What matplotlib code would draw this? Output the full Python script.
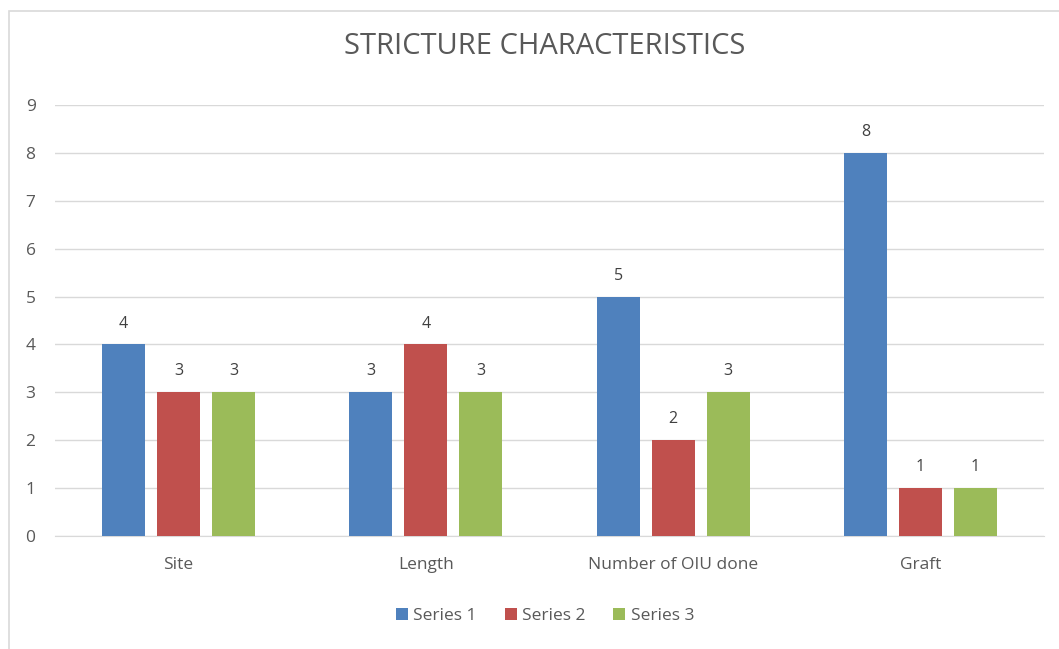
import matplotlib
matplotlib.use('Agg')
import matplotlib.pyplot as plt
from matplotlib.patches import Rectangle
import numpy as np

categories = ['Site', 'Length', 'Number of OIU done', 'Graft']
series1 = [4, 3, 5, 8]
series2 = [3, 4, 2, 1]
series3 = [3, 3, 3, 1]
series_names = ['Series 1', 'Series 2', 'Series 3']
colors = ['#4F81BD', '#C0504D', '#9BBB59']
txt = '#595959'

plt.rcParams['font.family'] = ['Open Sans', 'DejaVu Sans']

fig = plt.figure(figsize=(10.59, 6.49), dpi=100)
# outer chart frame
fig.patches.append(Rectangle((9/1059, -0.05), 1.2, 1 - 11/649 + 0.05,
                             transform=fig.transFigure, fill=False,
                             edgecolor='#D9D9D9', linewidth=1.2))

ax = fig.add_axes([55/1059, 1 - 536/649, 989/1059, (536 - 105)/649])
x = np.arange(len(categories))
w = 43/247
off = 55/247
for i, vals in enumerate([series1, series2, series3]):
    bars = ax.bar(x + (i - 1)*off, vals, w, color=colors[i], label=series_names[i], zorder=3)
    for b, v in zip(bars, vals):
        ax.text(b.get_x() + b.get_width()/2, v + 0.27, str(v), ha='center', va='bottom',
                fontsize=11.5, color='#404040')

ax.set_xlim(-0.5, 3.5)
ax.set_ylim(0, 9)
ax.set_yticks(range(0, 10))
ax.yaxis.grid(True, color='#D9D9D9', linewidth=1, zorder=0)
for s in ['top', 'right', 'left']:
    ax.spines[s].set_visible(False)
ax.spines['bottom'].set_color('#D9D9D9')
ax.tick_params(axis='both', length=0, labelsize=12.5, colors=txt)
ax.tick_params(axis='y', pad=14)
ax.tick_params(axis='x', pad=15)
ax.set_xticks(x)
ax.set_xticklabels(categories)

fig.text(545/1059, 1 - 47/649, 'STRICTURE CHARACTERISTICS', ha='center', va='center',
         fontsize=21, color=txt)
fig.legend(loc='center', bbox_to_anchor=(545/1059, 1 - 616/649), ncol=3, frameon=False,
           fontsize=12.5, labelcolor=txt, handlelength=0.7, handleheight=0.7,
           handletextpad=0.3, columnspacing=1.6)

fig.savefig('out.png', dpi=100)
